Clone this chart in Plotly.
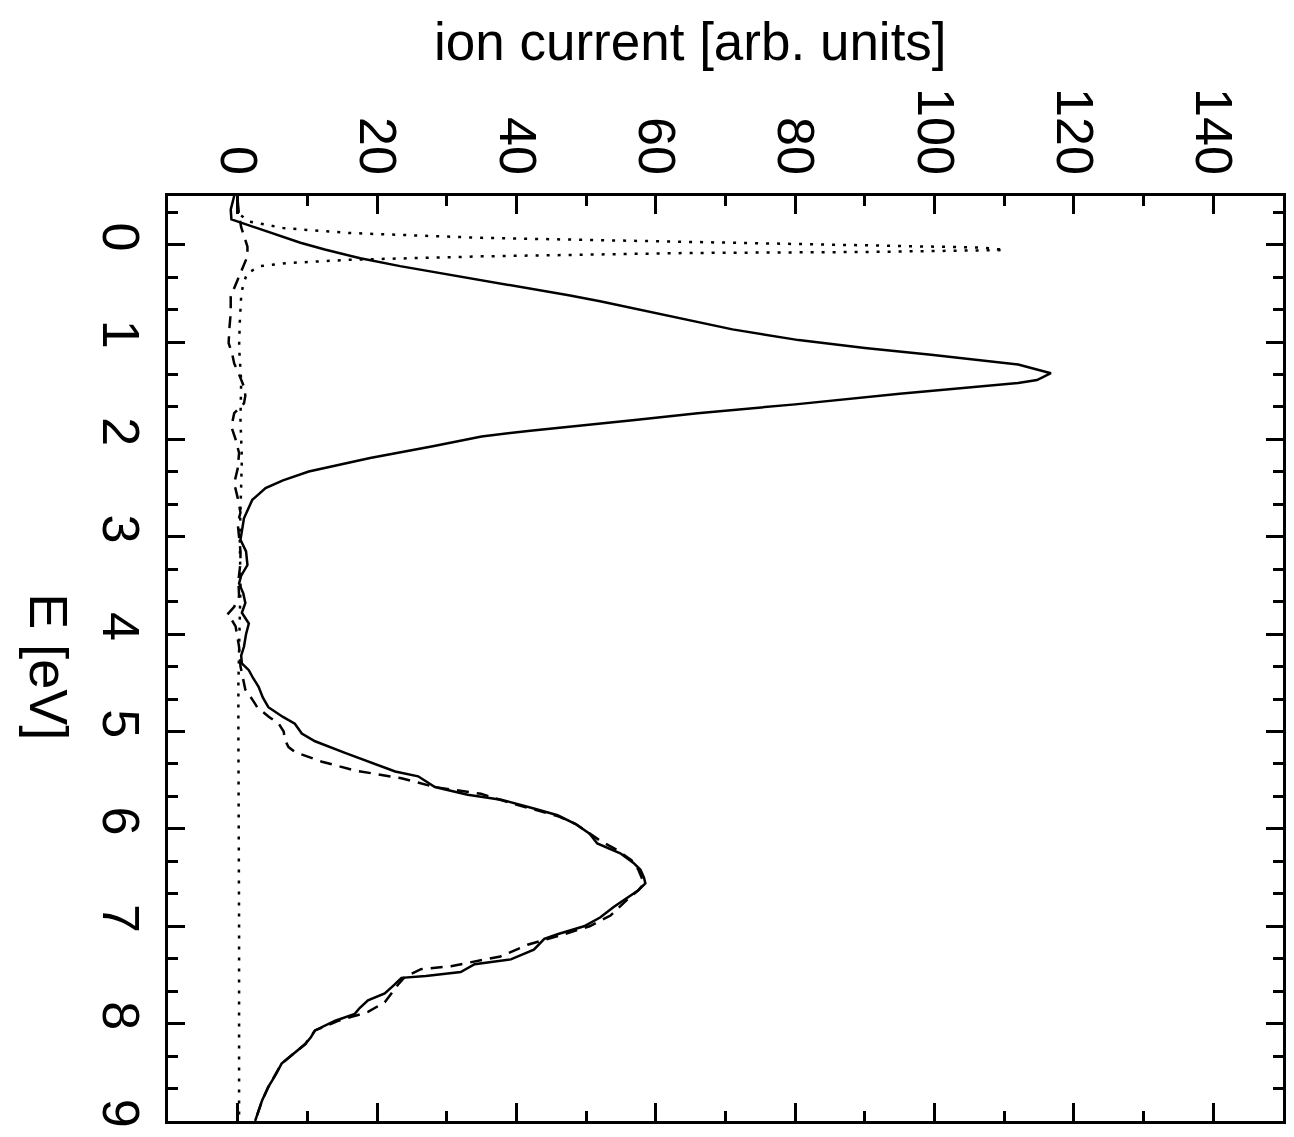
import plotly.graph_objects as go

# ---- data (ion current vs energy) ----
E_solid = [-0.50, -0.36, -0.26, -0.19, -0.10, -0.02, 0.05, 0.14, 0.22, 0.29,
           0.36, 0.45, 0.52, 0.58, 0.70, 0.87, 0.98, 1.06, 1.13, 1.23,
           1.32, 1.39, 1.42, 1.53, 1.64, 1.73, 1.80, 1.85, 1.91, 1.97,
           2.07, 2.19, 2.33, 2.42, 2.50, 2.62, 2.81, 3.03, 3.15, 3.29,
           3.40, 3.48, 3.58, 3.68, 3.78, 3.89, 4.00, 4.13, 4.22, 4.30,
           4.37, 4.45, 4.54, 4.65, 4.75, 4.85, 4.92, 5.02, 5.10, 5.22,
           5.33, 5.41, 5.46, 5.57, 5.65, 5.70, 5.79, 5.86, 5.95, 6.05,
           6.15, 6.25, 6.35, 6.42, 6.50, 6.56, 6.63, 6.70, 6.80, 6.91,
           7.00, 7.08, 7.13, 7.24, 7.34, 7.39, 7.47, 7.51, 7.53, 7.60,
           7.69, 7.76, 7.84, 7.90, 7.97, 8.07, 8.14, 8.21, 8.30, 8.41,
           8.52, 8.65, 8.79, 8.90, 9.00]
I_solid = [-0.5, -1.0, -0.9, 1.9, 5.5, 9.0, 12.5, 17.6, 23.3, 29,
           35, 42, 47.5, 52, 60, 71, 80.5, 90, 99.5, 112,
           116.7, 114.7, 112, 95, 80, 66, 57, 50, 42, 35,
           28, 19, 10.2, 6.5, 4.0, 2.1, 0.9, 0.4, 1.2, 1.4,
           0.5, 0.2, 0.8, 1.1, 0.6, 1.6, 1.2, 0.9, 0.5, 0.6,
           1.6, 2.2, 3.0, 3.6, 4.4, 6.5, 8.2, 9.2, 11.1, 15.4,
           19.7, 22.6, 25.9, 28.3, 33, 37.8, 42.5, 45.9, 48.5, 50.5,
           51.6, 54.9, 56.8, 57.8, 58.3, 58.5, 57.5, 56, 54, 52,
           49.7, 46, 44, 42.5, 39.2, 34, 32, 27, 23.5, 22.5,
           21.1, 18.7, 17.5, 16.8, 14, 11.1, 10.5, 9.7, 8.2, 6.3,
           5.5, 4.4, 3.5, 3.0, 2.5]

E_dashed = [-0.45, -0.30, -0.18, -0.08, 0.02, 0.12, 0.25, 0.36, 0.53, 0.70,
            0.87, 1.01, 1.12, 1.22, 1.35, 1.46, 1.55, 1.63, 1.73, 1.87,
            2.00, 2.14, 2.30, 2.45, 2.60, 2.75, 2.86, 3.03, 3.15, 3.27,
            3.45, 3.61, 3.72, 3.80, 3.86, 3.92, 4.13, 4.33, 4.45, 4.57,
            4.66, 4.75, 4.85, 4.92, 5.00, 5.09, 5.16, 5.21, 5.31, 5.40,
            5.48, 5.57, 5.64, 5.72, 5.80, 5.87, 5.95, 6.05, 6.12, 6.22,
            6.32, 6.42, 6.50, 6.56, 6.63, 6.72, 6.89, 7.00, 7.10, 7.19,
            7.31, 7.41, 7.44, 7.52, 7.60, 7.70, 7.78, 7.88, 7.97, 8.07,
            8.21, 8.41, 8.65, 8.79, 9.00]
I_dashed = [0, 0.2, 0.5, 0.9, 1.4, 1.4, 0.6, 0, -1.0, -1.0,
            -1.2, -1.3, -0.8, -0.5, 0.3, 0.9, 1.1, 0.9, -0.5, -0.9,
            -0.3, 0.2, 0, -0.5, 0, 0.4, 0, 0.2, 0.4, 0.4,
            0.1, 0.2, -0.5, -1.5, -0.8, -0.3, 0.2, 0.4, 0.8, 1.1,
            2.0, 2.8, 4.5, 5.9, 6.6, 6.8, 7.3, 8.2, 12.1, 16.8,
            23.5, 28.3, 34.9, 38.5, 42.5, 46, 48.5, 50.5, 52, 54.5,
            56.5, 57.5, 58, 58.3, 57.5, 56, 53.5, 50.5, 46, 41.6,
            37.7, 30.6, 26.3, 24, 23, 22, 21.1, 18.7, 14.5, 11.1,
            9.7, 6.3, 4.4, 3.5, 2.5]

E_dotted = [-0.30, -0.24, -0.17, -0.12, -0.07, -0.035, -0.01, 0.03, 0.055, 0.065,
            0.075, 0.085, 0.10, 0.12, 0.155, 0.19, 0.22, 0.29, 0.40, 0.53,
            0.80, 1.05, 1.40, 1.80, 2.20, 2.60, 3.00, 3.50, 4.00, 4.50,
            5.00, 6.00, 7.00, 8.00, 9.00]
I_dotted = [0.5, 1.5, 6.6, 16, 35, 59, 80, 107, 110, 100,
            90, 65, 50, 35, 16, 7, 3.3, 1.4, 0.8, 0.5,
            0.3, 0.2, 0.5, 0.4, 0.6, 0.4, 0.3, 0.4, 0.2, 0.1,
            0.1, 0.2, 0.2, 0.2, 0.2]

current_ticks = [0, 20, 40, 60, 80, 100, 120, 140]
current_minor = [10, 30, 50, 70, 90, 110, 130, 150]
energy_ticks = [0, 1, 2, 3, 4, 5, 6, 7, 8, 9]
energy_minor = [k / 3 for k in range(-1, 28) if k % 3 != 0]

assert len(E_solid) == len(I_solid)
assert len(E_dashed) == len(I_dashed)
assert len(E_dotted) == len(I_dotted)

FONT = "Liberation Sans, Arial, sans-serif"

fig = go.Figure()
fig.add_trace(go.Scatter(x=I_dotted, y=E_dotted, mode="lines",
                         line=dict(color="black", width=2.5, dash="3px,8px")))
fig.add_trace(go.Scatter(x=I_dashed, y=E_dashed, mode="lines",
                         line=dict(color="black", width=2.5, dash="12px,8px")))
fig.add_trace(go.Scatter(x=I_solid, y=E_solid, mode="lines",
                         line=dict(color="black", width=2.5)))

axis_common = dict(
    ticks="inside", tickwidth=3, tickcolor="black",
    showline=True, linewidth=3, linecolor="black", mirror="ticks",
    showgrid=False, zeroline=False, tickangle=90,
    tickfont=dict(size=52, family=FONT, color="black"),
)

fig.update_xaxes(side="top", range=[-10, 150], tickvals=current_ticks,
                 ticklen=18,
                 minor=dict(tickvals=current_minor, ticks="inside", ticklen=10,
                            tickwidth=3, tickcolor="black", showgrid=False),
                 **axis_common)
fig.update_yaxes(range=[9, -0.5], tickvals=energy_ticks, ticklen=17,
                 minor=dict(tickvals=energy_minor, ticks="inside", ticklen=10,
                            tickwidth=3, tickcolor="black", showgrid=False),
                 **axis_common)

fig.update_layout(
    width=1294, height=1137,
    margin=dict(l=168, r=8, t=196, b=16),
    plot_bgcolor="white", paper_bgcolor="white",
    showlegend=False,
    font=dict(family=FONT, color="black"),
    annotations=[
        dict(text="ion current [arb. units]", xref="paper", yref="paper",
             x=0.4687, y=1.1665, xanchor="center", yanchor="middle",
             showarrow=False, font=dict(size=53, family=FONT, color="black")),
        dict(text="E [eV]", xref="paper", yref="paper",
             x=-0.107, y=0.491, xanchor="center", yanchor="middle",
             textangle=90, showarrow=False,
             font=dict(size=54, family=FONT, color="black")),
    ],
)

fig.write_html("out.html")
